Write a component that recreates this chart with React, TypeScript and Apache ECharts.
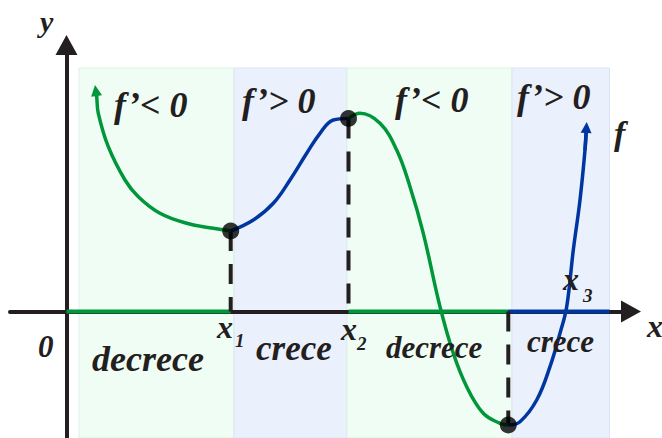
import React, { useEffect, useRef } from 'react';
import * as echarts from 'echarts';

const GREEN = '#00963a';
const BLUE = '#0036a0';
const INK = '#231f20';

// curve pieces (x, f(x)) — origin at the axes crossing
const greenA: [number, number][] = [
  [2.93, 22.1], [3.02, 21.48], [3.18, 19.82], [4.18, 16.48], [5.85, 13.15],
  [7.18, 11.48], [9.35, 9.82], [12.02, 8.82], [14.68, 8.32], [16.42, 8.05],
];
const blueB: [number, number][] = [
  [16.42, 8.05], [18.68, 9.15], [20.68, 10.82], [22.35, 13.15], [24.02, 15.82],
  [25.35, 17.82], [26.68, 19.15], [28.2, 19.3],
];
const greenC: [number, number][] = [
  [28.2, 19.3], [29.35, 19.82], [31.35, 18.82], [33.02, 16.15], [34.35, 12.48],
  [35.68, 7.82], [37.35, 0.48], [38.68, -4.18], [40.02, -7.52], [41.68, -10.18],
  [43.35, -11.18], [44.18, -11.35],
];
const blueD: [number, number][] = [
  [44.18, -11.35], [45.35, -11.02], [47.02, -8.85], [48.35, -5.52], [49.35, -2.18],
  [50.02, 0.48], [50.68, 6.15], [51.35, 11.15], [51.85, 16.15], [51.99, 18.4],
];

const criticalX = [16.42, 28.2, 44.18];
const criticalY = [8.05, 19.3, -11.35];
const regionEdges = [1.25, 16.75, 28.05, 44.55, 54.3];
const regionKinds = ['dec', 'inc', 'dec', 'inc'];
const regionTop = 24.35;
const axisGreenSpans = [[0, 16.42], [28.2, 44.18]];
const axisBlueSpans = [[44.18, 54.3]];
const xRange = [-5.65, 56.45];
const yRange = [-12.65, 26.65];

const regionLabels = ['decrece', 'crece', 'decrece', 'crece'];
const derivLabels = ['f’< 0', 'f’> 0', 'f’< 0', 'f’> 0'];
const critSubs = ['1', '2', '3'];

const FONT = '"Liberation Serif", "Times New Roman", serif';

function txt(text: string, x: number, y: number, size: number) {
  return {
    type: 'text',
    x,
    y,
    z: 100,
    silent: true,
    style: {
      text,
      fill: INK,
      fontFamily: FONT,
      fontStyle: 'italic',
      fontWeight: 'bold',
      fontSize: size,
      align: 'left',
      verticalAlign: 'middle',
    },
  };
}

function curve(data: [number, number][], color: string) {
  return {
    type: 'line',
    data,
    smooth: 0.4,
    symbol: 'none',
    showSymbol: false,
    silent: true,
    lineStyle: { color, width: 3.5 },
    z: 5,
  };
}

function arrow(from: [number, number], to: [number, number], color: string) {
  return {
    type: 'lines',
    coordinateSystem: 'cartesian2d',
    data: [{ coords: [from, to] }],
    symbol: ['none', 'triangle'],
    symbolSize: 11,
    silent: true,
    lineStyle: { color, width: 3.5, opacity: 1 },
    z: 5,
  };
}

export default function App() {
  const ref = useRef<HTMLDivElement>(null);
  useEffect(() => {
    if (!ref.current) return;
    const chart = echarts.init(ref.current, undefined, { renderer: 'svg' });

    const areas = regionKinds.map((k, i) => [
      {
        xAxis: regionEdges[i],
        yAxis: regionTop,
        itemStyle: {
          color: k === 'dec' ? '#f0fdf4' : '#ebf0fd',
          borderColor: k === 'dec' ? '#dcf3e2' : '#dbe3f7',
          borderWidth: 1,
        },
      },
      { xAxis: regionEdges[i + 1], yAxis: yRange[0] },
    ]);

    const axisOverlay = (spans: number[][], color: string) =>
      spans.map((s) => ({
        type: 'line',
        data: [[s[0], 0], [s[1], 0]],
        symbol: 'none',
        silent: true,
        lineStyle: { color, width: 4 },
        z: 3,
      }));

    const dashes = criticalX.map((x, i) => ({
      type: 'line',
      data: i < 2 ? [[x, criticalY[i]], [x, 0]] : [[x, 0], [x, criticalY[i]]],
      symbol: 'none',
      silent: true,
      lineStyle: { color: INK, width: 4, type: [20, 13] },
      z: 4,
    }));

    const nD = blueD.length;

    const graphics = [
      txt('y', 40, 21, 30),
      txt('0', 38, 346, 31),
      txt('x', 647, 326, 32),
      txt('f', 614, 133, 34),
      txt(derivLabels[0], 114, 105, 36),
      txt(derivLabels[1], 242, 101, 36),
      txt(derivLabels[2], 395, 100, 36),
      txt(derivLabels[3], 517, 97, 36),
      txt(regionLabels[0], 92, 359, 36),
      txt(regionLabels[1], 256, 348, 35),
      txt(regionLabels[2], 386, 347, 31),
      txt(regionLabels[3], 527, 341, 31),
      txt('x', 217, 327, 32),
      txt(critSubs[0], 235, 340, 19),
      txt('x', 341, 329, 32),
      txt(critSubs[1], 357, 343, 19),
      txt('x', 563, 279, 32),
      txt(critSubs[2], 583, 295, 19),
    ];

    chart.setOption({
      animation: false,
      backgroundColor: '#ffffff',
      grid: { left: 10, right: 31, top: 45, bottom: 0, containLabel: false },
      xAxis: {
        type: 'value',
        min: xRange[0],
        max: xRange[1],
        z: 2,
        axisLine: {
          onZero: true,
          symbol: ['none', 'triangle'],
          symbolSize: [22, 20],
          lineStyle: { color: INK, width: 4 },
        },
        axisTick: { show: false },
        axisLabel: { show: false },
        splitLine: { show: false },
      },
      yAxis: {
        type: 'value',
        min: yRange[0],
        max: yRange[1],
        z: 2,
        axisLine: {
          onZero: true,
          symbol: ['none', 'triangle'],
          symbolSize: [22, 20],
          lineStyle: { color: INK, width: 4 },
        },
        axisTick: { show: false },
        axisLabel: { show: false },
        splitLine: { show: false },
      },
      series: [
        {
          ...curve(greenA, GREEN),
          markArea: { silent: true, data: areas },
        },
        curve(blueB, BLUE),
        curve(greenC, GREEN),
        curve(blueD, BLUE),
        arrow(greenA[1], greenA[0], GREEN),
        arrow(blueD[nD - 2], blueD[nD - 1], BLUE),
        ...axisOverlay(axisGreenSpans, GREEN),
        ...axisOverlay(axisBlueSpans, BLUE),
        ...dashes,
        {
          type: 'scatter',
          data: criticalX.map((x, i) => [x, criticalY[i]]),
          symbol: 'circle',
          symbolSize: 17,
          silent: true,
          itemStyle: { color: '#000000' },
          z: 7,
        },
      ],
      graphic: graphics,
    });
    return () => chart.dispose();
  }, []);

  return (
    <div
      ref={ref}
      style={{ position: 'fixed', left: 0, top: 0, width: 662, height: 438, background: '#fff' }}
    />
  );
}
